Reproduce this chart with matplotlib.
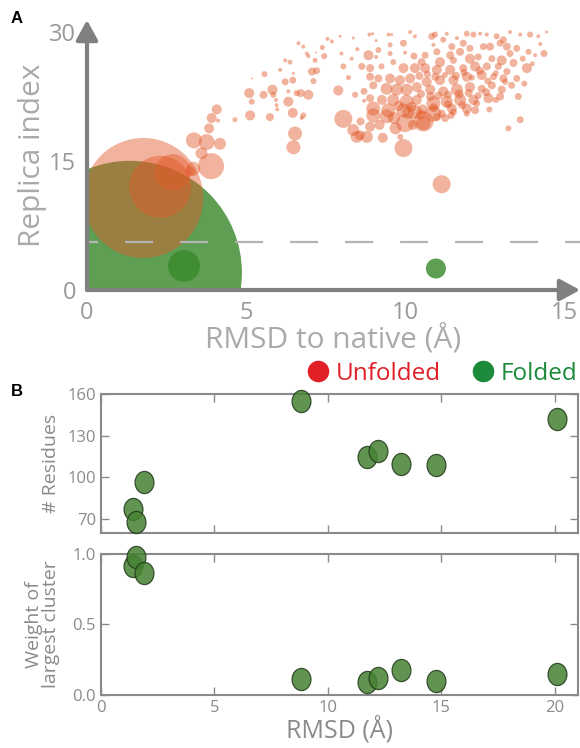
"""Replica exchange folding overview: replica index vs RMSD (A) and cluster stats (B)."""

import matplotlib.pyplot as plt
from matplotlib.lines import Line2D
from matplotlib.path import Path
from matplotlib.transforms import Affine2D

plt.rcParams["font.family"] = ["Open Sans", "DejaVu Sans"]
plt.rcParams["lines.scale_dashes"] = False

# ---- panel A: unfolded clusters (rmsd, replica, bubble radius) ----
unf_rmsd = [
    1.77, 2.3, 2.7, 3.34, 3.24, 3.9, 3.6, 3.36, 3.76, 4.18, 3.84, 3.92, 4.12, 4.08,
    4.65, 5.13, 5.18, 5.1, 5.55, 5.75, 5.83, 5.86, 5.94, 5.96, 5.98, 5.58, 5.18, 6.07,
    6.23, 6.38, 6.23, 6.47, 6.33, 6.65, 6.49, 6.33, 6.47, 6.54, 6.49, 6.59, 6.8, 6.91,
    6.96, 7.17, 7.46, 7.56, 7.2, 7.96, 8.37, 8.06, 8.32, 8.22, 7.07, 7.22, 7.12, 7.9,
    6.72, 6.96, 8.06, 8.43, 8.71, 8.71, 8.64, 8.9, 8.85, 8.88, 8.98, 9.09, 9.16, 9.09,
    9.26, 9.48, 9.58, 9.53, 9.53, 9.95, 10.16, 10.31, 10.0, 10.28, 9.63, 9.95, 10.31,
    10.16, 9.84, 9.53, 9.16, 9.0, 8.9, 9.42, 9.74, 10.05, 10.37, 9.27, 9.63, 10.05,
    10.37, 8.9, 9.0, 9.47, 9.95, 10.31, 6.8, 6.75, 8.37, 8.48, 8.58, 8.8, 8.9, 9.0,
    9.3, 9.95, 9.42, 10.0, 10.58,
    14.45, 14.19, 13.93, 13.62, 13.3, 13.09, 12.99, 12.88, 12.57, 12.36, 12.15, 11.94,
    11.83, 11.63, 11.31, 11.2, 10.94, 10.84, 10.89, 10.63, 11.0, 11.47, 11.42, 11.73,
    12.04, 12.46, 12.67, 13.2, 13.51, 13.88, 14.09, 14.37, 10.52, 11.1, 11.52, 12.04,
    12.3, 12.73, 13.04, 13.3, 13.41, 13.83, 10.63, 11.0, 11.42, 11.83, 12.2, 12.57,
    12.93, 13.2, 12.41, 12.78, 13.09, 13.51, 11.94, 11.52, 11.1, 10.68, 10.79, 11.2,
    11.63, 12.04, 12.41, 12.73, 13.04, 13.35, 12.62, 12.99, 13.56, 12.15, 11.73, 11.31,
    10.89, 10.89, 11.47, 11.94, 12.2, 13.62, 11.26, 10.58, 11.15, 11.52, 11.94, 13.25,
    11.15,
    # denser core
    10.45, 10.7, 10.95, 11.25, 11.6, 11.85, 12.1, 12.35, 12.6, 12.85, 10.5, 10.8,
    11.05, 11.35, 11.7, 12.0, 12.3, 12.55, 12.85, 13.15, 9.8, 10.2, 10.55, 10.9, 11.35,
    11.8, 12.25, 12.65, 9.65, 10.1, 10.5, 11.0, 11.45, 9.2, 9.7, 10.25, 8.6, 9.85, 13.7,
    14.0, 14.25, 13.75, 7.7, 7.4, 8.0, 8.5,
]
unf_replica = [
    10.7, 12.0, 13.7, 14.1, 13.8, 14.4, 15.9, 17.4, 17.2, 17.0, 18.8, 20.0, 19.7, 21.0,
    19.8, 20.3, 21.9, 22.9, 22.7, 20.1, 23.3, 22.7, 22.1, 21.5, 21.0, 25.1, 24.6, 25.6,
    26.7, 26.5, 24.2, 24.4, 23.1, 28.7, 25.2, 21.9, 20.6, 18.2, 16.6, 22.9, 28.3, 27.5,
    27.2, 26.7, 27.2, 29.2, 27.6, 29.5, 29.3, 26.0, 26.9, 24.7, 25.4, 25.5, 24.3, 23.2,
    22.9, 22.7, 19.9, 22.7, 23.1, 22.0, 26.0, 25.8, 27.3, 29.7, 29.8, 29.0, 27.9, 27.1,
    26.0, 29.7, 29.7, 28.5, 27.5, 28.7, 30.0, 29.5, 27.6, 27.2, 26.5, 25.8, 25.8,
    24.6, 24.4, 24.6, 24.6, 23.8, 24.8, 23.4, 23.3, 23.3, 23.6, 22.1, 22.1, 21.9,
    22.1, 22.3, 21.1, 20.9, 20.9, 20.7, 20.3, 20.0, 18.6, 17.8, 18.0, 17.8, 19.0, 20.3,
    17.7, 16.5, 20.2, 19.4, 19.6,
    30.0, 29.5, 29.7, 29.7, 30.0, 29.1, 28.7, 29.5, 29.7, 29.8, 29.7, 29.8,
    28.7, 29.3, 29.8, 29.1, 29.7, 29.5, 28.5, 27.3, 27.7, 28.3, 27.3, 27.7,
    28.1, 28.3, 28.3, 28.3, 28.1, 27.7, 27.3, 27.5, 26.5, 26.5, 26.7, 26.9,
    27.1, 26.9, 26.7, 27.5, 26.4, 25.8, 25.8, 25.6, 25.6, 25.8, 26.0, 26.0,
    26.0, 25.4, 25.0, 24.8, 24.6, 24.6, 24.8, 24.4, 24.4, 24.2, 23.3, 23.1,
    23.3, 23.6, 23.4, 23.8, 23.3, 23.8, 22.3, 22.5, 22.5, 22.1, 22.1, 21.9,
    21.7, 20.5, 21.1, 21.1, 20.9, 19.8, 20.0, 19.4, 20.5, 20.7, 20.5, 18.8,
    12.3,
    24.9, 25.1, 24.8, 25.0, 24.9, 25.3, 24.7, 25.5, 24.3, 25.2, 22.8, 22.5,
    22.6, 22.7, 22.8, 22.9, 22.6, 23.0, 22.1, 24.2, 21.4, 21.3, 21.0, 21.2, 21.6,
    21.5, 21.7, 21.0, 20.0, 20.6, 20.4, 20.1, 20.3, 19.2, 18.8, 19.2, 19.6, 17.8, 26.9,
    26.3, 28.6, 24.0, 28.9, 28.2, 27.5, 28.0,
]
unf_radius = [
    60, 31, 18, 7, 5, 13, 6, 8, 8, 6, 5, 5, 2, 5,
    2.5, 5, 3, 5, 4, 4, 5, 3, 2, 2, 2, 3, 1, 2,
    2, 2.5, 3.5, 3.5, 2, 2, 1.5, 5, 5, 7, 7, 3, 2, 2,
    2, 2.5, 3, 2, 1, 1.5, 1.5, 3, 2, 2.5, 4, 3.5, 3, 5,
    4, 5, 9, 3, 3.5, 2, 3.5, 4, 5, 2, 1.5, 1.5, 3, 2,
    3, 2, 1.5, 2.5, 2.5, 3.5, 2, 2, 2, 3.5, 3, 5, 5,
    5, 5, 5, 4, 4, 4, 6, 6, 6, 5, 5, 6, 7,
    5, 4, 7, 7, 7, 7, 3, 2, 6, 6, 5, 6, 5, 7,
    5, 9, 7, 9, 10,
    1.5, 2, 3, 2, 2, 3.5, 3.5, 3, 2, 2, 3, 3,
    3.5, 2, 2, 3, 3, 3.5, 2, 3.5, 3.5, 3.5, 4, 4,
    3.5, 3.5, 4, 4, 3.5, 3, 2, 3.5, 4, 5, 3.5, 5,
    3.5, 3.5, 5, 3.5, 4, 5, 5, 5, 5, 4, 5, 4,
    3.5, 3.5, 5, 3.5, 4, 3.5, 5, 5, 5, 5, 5, 5,
    6, 5, 4, 4, 4, 3.5, 5, 4, 3.5, 5, 6, 6,
    7, 8, 5, 5, 4, 3.5, 4, 7, 4, 3.5, 3, 3,
    9,
    4, 3.5, 4, 3, 4, 3.5, 3, 4, 3.5, 3, 4, 4.5,
    4, 4, 4.5, 4, 3.5, 4, 3, 3, 5, 5, 5, 4.5, 4,
    4, 3.5, 3, 6, 6, 5, 4, 3.5, 5, 6, 5, 4, 3, 3,
    2.5, 2, 3, 2, 2.5, 2, 2,
]

# folded clusters
fold_rmsd = [1.35, 3.05, 10.97]
fold_replica = [2.0, 2.8, 2.5]
fold_radius = [112, 16, 10]
folded_cutoff = 5.6

# ---- panel B: per-protein cluster statistics ----
b_rmsd = [1.4, 1.55, 1.9, 8.8, 11.7, 12.2, 13.2, 14.75, 20.1]
b_residues = [77, 68, 97, 155, 115, 119, 110, 109, 142]
b_weight = [0.917, 0.98, 0.865, 0.11, 0.09, 0.123, 0.177, 0.10, 0.147]

ORANGE = "#e25a2a"
GREEN = "#3b8a2e"
GRAY = "#808080"


def radius_to_s(r):
    # bubble radius in pixels (dpi 100) -> scatter area in pt^2
    return (2 * r * 0.72) ** 2


fig = plt.figure(figsize=(5.8, 7.48), dpi=100)

# ---------------- panel A ----------------
axA = fig.add_axes([0.15, 0.6123, 0.85, 0.361])
axA.set_xlim(0, 15.5)
axA.set_ylim(0, 31.4)
for s in axA.spines.values():
    s.set_visible(False)

axA.scatter(fold_rmsd, fold_replica, s=[radius_to_s(r) for r in fold_radius],
            color=GREEN, alpha=0.82, linewidths=0, zorder=2)
axA.scatter(unf_rmsd, unf_replica, s=[radius_to_s(r) for r in unf_radius],
            color=ORANGE, alpha=0.46, linewidths=0, zorder=3)
axA.axhline(folded_cutoff, color="#b4b4b4", lw=1.6, ls=(12.2, (20.2, 19.4)), zorder=4)

arrow = dict(arrowstyle="-|>,head_length=0.55,head_width=0.3", lw=3, color=GRAY,
             mutation_scale=22, shrinkA=0, shrinkB=0)
axA.annotate("", xy=(1.0, 0), xytext=(0, 0), xycoords="axes fraction",
             textcoords="axes fraction", arrowprops=arrow, annotation_clip=False, zorder=5)
axA.annotate("", xy=(0, 1.0), xytext=(0, 0), xycoords="axes fraction",
             textcoords="axes fraction", arrowprops=arrow, annotation_clip=False, zorder=5)

axA.set_xticks([0, 5, 10, 15])
axA.set_yticks([0, 15, 30])
axA.tick_params(length=0, labelsize=17, colors="#999999", pad=8)
axA.set_xlabel("RMSD to native (Å)", fontsize=21.5, color="#aaaaaa", labelpad=0)
axA.set_ylabel("Replica index", fontsize=21.5, color="#aaaaaa", labelpad=1)

# ---------------- panel B ----------------
ellipse = Path.unit_circle().transformed(Affine2D().scale(0.85, 1.0))
axB1 = fig.add_axes([0.174, 0.2874, 0.822, 0.1858])
axB2 = fig.add_axes([0.174, 0.0709, 0.822, 0.1885])

for ax, yvals in [(axB1, b_residues), (axB2, b_weight)]:
    ax.scatter(b_rmsd, yvals, s=255, marker=ellipse, color="#468232", alpha=0.85,
               edgecolors="#1f3a18", linewidths=0.9, zorder=3, clip_on=False)
    ax.set_xlim(0, 21)
    ax.set_xticks([0, 5, 10, 15, 20])
    for s in ax.spines.values():
        s.set_color("#8a8a8a")
        s.set_linewidth(1.5)
    ax.tick_params(direction="in", length=6, width=1, colors="#8a8a8a",
                   top=True, right=True, labelsize=12)

axB1.set_ylim(60, 160)
axB1.set_yticks([70, 100, 130, 160])
axB1.tick_params(labelbottom=False)
axB1.set_ylabel("# Residues", fontsize=14, color="#8a8a8a")

axB2.set_ylim(0, 1.0)
axB2.set_yticks([0.0, 0.5, 1.0])
axB2.set_yticklabels(["0.0", "0.5", "1.0"])
axB2.set_ylabel("Weight of\nlargest cluster", fontsize=14, color="#8a8a8a",
                linespacing=0.95)
axB2.set_xlabel("RMSD (Å)", fontsize=18, color="#8a8a8a", labelpad=0)
axB1.yaxis.set_label_coords(-0.085, 0.5)
axB2.yaxis.set_label_coords(-0.085, 0.5)

handles = [
    Line2D([], [], marker="o", ls="", color="#e11f26", markersize=14.5),
    Line2D([], [], marker="o", ls="", color="#1b8a3a", markersize=14.5),
]
leg = fig.legend(handles, ["Unfolded", "Folded"], loc="center right",
                 bbox_to_anchor=(1.0, 0.5), ncol=2, frameon=False, fontsize=17.5,
                 handletextpad=0.35, columnspacing=1.3, borderaxespad=0.1,
                 borderpad=0, handlelength=0.8)
for txt, c in zip(leg.get_texts(), ["#e11f26", "#1b8a3a"]):
    txt.set_color(c)

fig.text(0.018, 0.975, "A", fontsize=12, fontweight="bold", family="Liberation Sans",
         va="center")
fig.text(0.018, 0.476, "B", fontsize=12, fontweight="bold", family="Liberation Sans",
         va="center")

fig.savefig("out.png", dpi=100)
print("Saved out.png")
